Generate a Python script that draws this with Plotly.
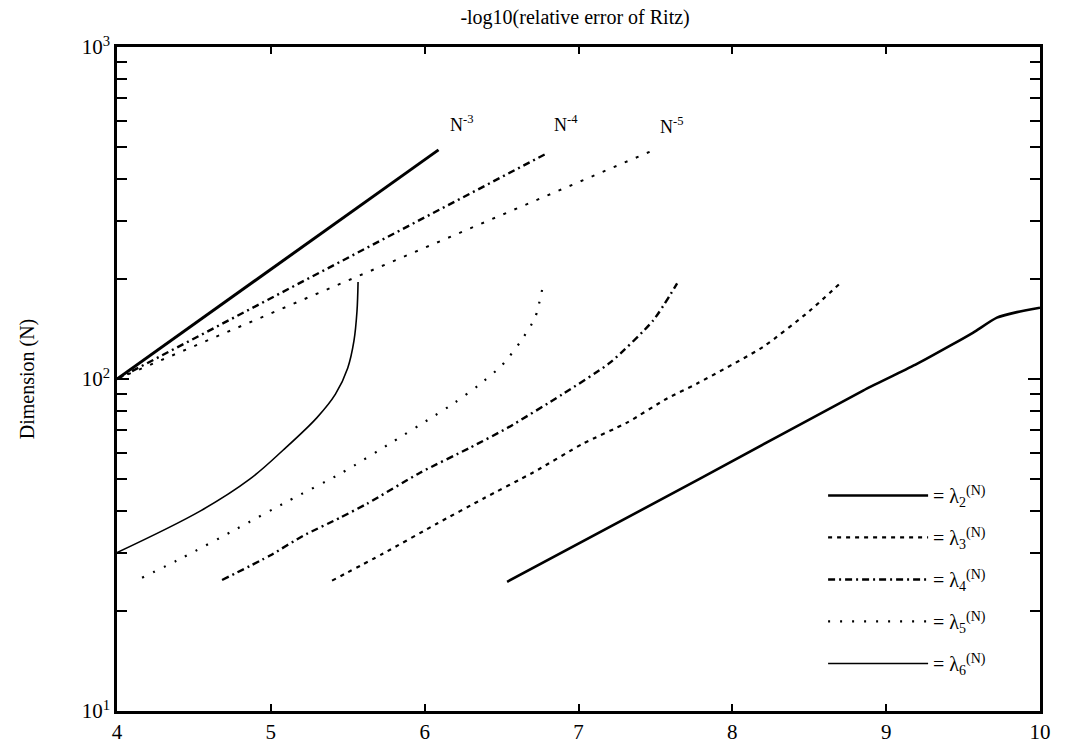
import math
import plotly.graph_objects as go

# ---- data ----
lam2_x = [6.536, 7.79, 8.85, 9.20, 9.416, 9.566, 9.72, 9.85, 10.0]
lam2_n = [24.5, 50.1, 92.3, 111, 126, 138, 153, 159, 164]

lam3_x = [5.398, 5.73, 6.081, 6.38, 6.705, 7.03, 7.316, 7.576, 7.771, 8.2, 8.5, 8.71]
lam3_n = [24.7, 29.8, 36.7, 43.6, 52.3, 63.9, 73.9, 87.4, 96.9, 125, 160, 196]

lam4_x = [4.683, 4.995, 5.209, 5.45, 5.625, 5.97, 6.295, 6.542, 6.893, 7.205, 7.485, 7.641]
lam4_n = [24.8, 29.4, 33.7, 38.2, 42.1, 52.2, 62.1, 71.4, 89.8, 112, 150, 194]

lam5_x = [4.163, 4.429, 4.78, 5.112, 5.463, 5.795, 6.035, 6.198, 6.347, 6.503, 6.62, 6.718, 6.77]
lam5_n = [25.2, 29, 35.4, 42.9, 52.2, 64.8, 76, 85, 95.5, 110, 129, 153, 192]

lam6_x = [4.0, 4.54, 4.865, 5.079, 5.30, 5.42, 5.50, 5.54, 5.56, 5.567]
lam6_n = [30, 40, 50, 61, 76.5, 90, 108, 130, 160, 196]

ref3_x = [4.0, 6.09]
ref3_n = [100, 490]
ref4_x = [4.0, 6.80]
ref4_n = [100, 480]
ref5_x = [4.0, 7.47]
ref5_n = [100, 485]

ref_labels = ["N<sup>-3</sup>", "N<sup>-4</sup>", "N<sup>-5</sup>"]
ref_label_x = [6.24, 6.92, 7.61]
ref_label_n = [590, 590, 580]

x_ticks = [4, 5, 6, 7, 8, 9, 10]
y_tickvals = [10, 100, 1000]
y_ticktext = ["10<sup>1</sup>", "10<sup>2</sup>", "10<sup>3</sup>"]

SERIF = "Liberation Serif"

fig = go.Figure()

def add(x, y, name, dash, width, legend=True, smooth=0.6):
    fig.add_trace(go.Scatter(
        x=x, y=y, mode="lines", name=name, showlegend=legend,
        legendgroup=name,
        line=dict(color="black", width=width, dash=dash, shape="spline", smoothing=smooth),
        hoverinfo="skip",
    ))

add(lam2_x, lam2_n, "= λ<sub>2</sub><sup>(N)</sup>", "solid", 2.6)
add(lam3_x, lam3_n, "= λ<sub>3</sub><sup>(N)</sup>", "4px,5px", 2.2)
add(lam4_x, lam4_n, "= λ<sub>4</sub><sup>(N)</sup>", "7px,4px,2px,4px", 2.4)
add(lam5_x, lam5_n, "= λ<sub>5</sub><sup>(N)</sup>", "2px,10px", 2.2)
add(lam6_x, lam6_n, "= λ<sub>6</sub><sup>(N)</sup>", "solid", 1.6, smooth=1.0)

add(ref3_x, ref3_n, "N^-3", "solid", 3.0, legend=False)
add(ref4_x, ref4_n, "N^-4", "7px,4px,2px,4px", 2.4, legend=False)
add(ref5_x, ref5_n, "N^-5", "3px,9px", 2.0, legend=False)

for t, xx, nn in zip(ref_labels, ref_label_x, ref_label_n):
    fig.add_annotation(x=xx, y=math.log10(nn), xref="x", yref="y", text=t, showarrow=False,
                       font=dict(family=SERIF, size=18, color="black"))

axis_common = dict(
    showline=True, linecolor="black", linewidth=2.5, mirror="ticks",
    ticks="inside", tickcolor="black", tickwidth=1.5,
    showgrid=False, zeroline=False,
    tickfont=dict(family=SERIF, size=21, color="black"),
)

fig.update_xaxes(range=[4, 10], tickvals=x_ticks, ticklen=7, **axis_common)
fig.update_yaxes(type="log", range=[1, 3], tickvals=y_tickvals, ticktext=y_ticktext,
                 ticklen=12,
                 minor=dict(ticks="inside", ticklen=10, tickcolor="black", tickwidth=1.5,
                            dtick="D1", showgrid=False),
                 title=dict(text="Dimension (N)", font=dict(family=SERIF, size=20, color="black"),
                            standoff=42),
                 **axis_common)

fig.update_layout(
    width=1065, height=755,
    margin=dict(l=117, r=25, t=47, b=44),
    paper_bgcolor="white", plot_bgcolor="white",
    title=dict(text="-log10(relative error of Ritz)", x=0.54, xanchor="center",
               y=0.978, yanchor="middle",
               font=dict(family=SERIF, size=20, color="black")),
    legend=dict(x=0.765, y=0.354, xanchor="left", yanchor="top",
                bgcolor="rgba(0,0,0,0)", itemwidth=100,
                font=dict(family=SERIF, size=20, color="black"),
                tracegroupgap=13),
)

fig.write_html("out.html")
